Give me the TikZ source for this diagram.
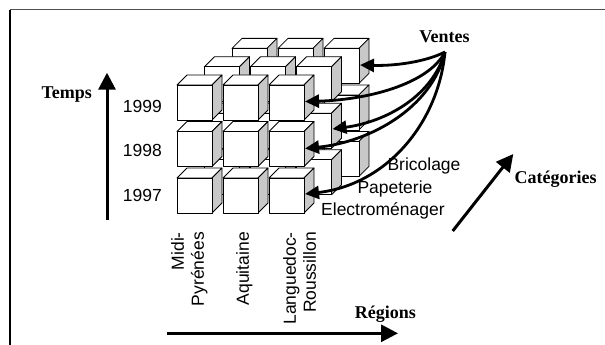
\documentclass[tikz,border=0pt]{standalone}
\usepackage{fontspec}
\setmainfont{Liberation Serif}
\setsansfont{Liberation Sans}
\usetikzlibrary{arrows.meta}
\definecolor{sidegray}{RGB}{200,200,200}
\definecolor{framegray}{RGB}{80,80,80}
\newcommand\drawcube[2]{%
  \filldraw[cubeline,fill=white] (#1,#2) -- ++(10,-10) -- ++(35,0) -- ++(-10,10) -- cycle;
  \filldraw[cubeline,fill=sidegray] (#1+35,#2) -- ++(10,-10) -- ++(0,35) -- ++(-10,10) -- cycle;
  \filldraw[cubeline,fill=white] (#1,#2) rectangle ++(35,35);
}
\begin{document}
\begin{tikzpicture}[x=1pt,y=-1pt,
  cubeline/.style={draw=black,line width=0.8pt,line join=round},
  axislabel/.style={font=\fontsize{18}{20}\selectfont\bfseries,inner sep=0pt},
  sanslabel/.style={font=\fontsize{17.5}{20}\selectfont\sffamily,inner sep=0pt},
  axisarrow/.style={line width=3pt,-{Triangle[length=17pt,width=17pt]}},
  salesarrow/.style={line width=2.8pt,-{Triangle[length=14pt,width=13pt]}}]
\useasboundingbox (0,0) rectangle (605,345);
\fill[white] (0,0) rectangle (605,345);
% frame (open to the right and bottom)
\draw[framegray,line width=1pt] (10,10) -- (605,10);
\draw[black,line width=1.4pt] (10,345) -- (10,10);
% cubes: back layer to front layer
\foreach \l in {2,1,0}{
  \foreach \r in {0,1,2}{
    \foreach \c in {0,1,2}{
      \pgfmathsetmacro\cx{177+46*\c+27.5*\l}
      \pgfmathsetmacro\cy{85+46.5*\r-18.3*\l}
      \drawcube{\cx}{\cy}
    }
  }
}
% tip coordinates
\coordinate (t1) at (360,65);
\coordinate (t2) at (305,101.5);
\coordinate (t3) at (332.5,129);
\coordinate (t4) at (305,148.5);
\coordinate (t5) at (305,194);
% labels
\node[axislabel,anchor=base] (temps) at (66.7,98) {Temps};
\node[axislabel,anchor=base] (ventes) at (444.5,42.7) {Ventes};
\node[axislabel,anchor=base] (regions) at (385.3,318) {Régions};
\node[axislabel,anchor=base] (categories) at (555.6,183.5) {Catégories};
\node[sanslabel,anchor=east] (y1999) at (162,106.7) {1999};
\node[sanslabel,anchor=east] (y1998) at (162,150) {1998};
\node[sanslabel,anchor=east] (y1997) at (162,195) {1997};
\node[sanslabel,anchor=base west] (bric) at (387.3,170.5) {Bricolage};
\node[sanslabel,anchor=base west] (pape) at (357.3,193.5) {Papeterie};
\node[sanslabel,anchor=base west] (elec) at (321,215.5) {Electroménager};
\node[sanslabel,rotate=90,anchor=east,align=right] (midi) at (189.3,232) {Midi-\\Pyrénées};
\node[sanslabel,rotate=90,anchor=east,align=right] (aqui) at (244.3,232) {Aquitaine};
\node[sanslabel,rotate=90,anchor=east,align=right] (lang) at (299.7,232) {Languedoc-\\Roussillon};
% axis arrows
\coordinate (ta0) at (107,220);
\coordinate (ta1) at (107,72.7);
\coordinate (ra0) at (166.7,333.3);
\coordinate (ra1) at (398,333.3);
\coordinate (ca0) at (452.7,231);
\coordinate (ca1) at (513.3,154);
\draw[axisarrow] (ta0) -- (ta1);
\draw[axisarrow] (ra0) -- (ra1);
\draw[axisarrow] (ca0) -- (ca1);
% sales arrows
\coordinate (vs) at (445,52);
\draw[salesarrow] (vs) .. controls (425,62) and (395,66) .. (t1);
\draw[salesarrow] (vs) .. controls (428,85) and (365,100) .. (t2);
\draw[salesarrow] (vs) .. controls (432,97) and (385,122) .. (t3);
\draw[salesarrow] (vs) .. controls (432,108) and (370,142) .. (t4);
\draw[salesarrow] (vs) .. controls (438,125) and (385,185) .. (t5);
\end{tikzpicture}
\end{document}
